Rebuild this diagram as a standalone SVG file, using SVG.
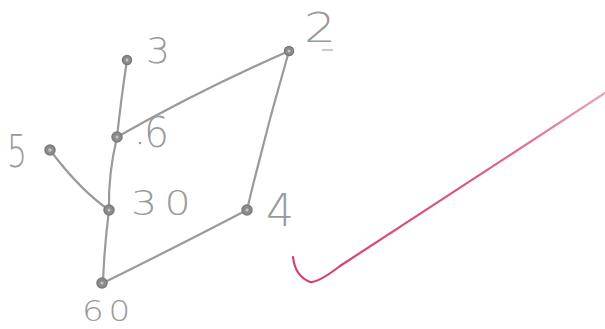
<svg xmlns="http://www.w3.org/2000/svg" width="605" height="329" viewBox="0 0 605 329">
<defs>
<linearGradient id="tick" x1="293" y1="282" x2="605" y2="93" gradientUnits="userSpaceOnUse">
<stop offset="0" stop-color="#d23f6a"/>
<stop offset="0.6" stop-color="#dc5a80"/>
<stop offset="1" stop-color="#eba0b6"/>
</linearGradient>
</defs>
<style>
.edge{fill:none;stroke:#9a9a9a;stroke-width:2.2;stroke-linecap:round}
.node{fill:#8c8c8c;stroke:#7a7a7a;stroke-width:1.5}
.hole{fill:#c4c4c4}
.lbl{font-family:"DejaVu Sans","Liberation Sans",sans-serif;font-weight:200;fill:#9a9a9a}
</style>
<rect width="605" height="329" fill="#ffffff"/>
<g id="connectors">
<path class="edge" d="M127,60 Q121,100 117,137"/>
<path class="edge" d="M289,51 Q200,90 117,137"/>
<path class="edge" d="M289,51 Q266,130 247,210"/>
<path class="edge" d="M117,137 Q108,175 109,210"/>
<path class="edge" d="M50,150 Q80,190 109,210"/>
<path class="edge" d="M109,210 Q104,250 103,283"/>
<path class="edge" d="M247,210 Q170,250 103,283"/>
</g>
<g id="node-3"><circle class="node" cx="127" cy="60" r="4.5"/><circle class="hole" cx="127" cy="60" r="1.5"/><text class="lbl" x="146" y="63" font-size="35" textLength="24" lengthAdjust="spacingAndGlyphs">3</text></g>
<g id="node-2"><circle class="node" cx="289" cy="51" r="4.5"/><circle class="hole" cx="289" cy="51" r="1.5"/><text class="lbl" x="304" y="42" font-size="40" textLength="32" lengthAdjust="spacingAndGlyphs">2</text><line x1="322" y1="50" x2="333" y2="50" stroke="#c8c8c8" stroke-width="2"/></g>
<g id="node-6"><circle class="node" cx="117" cy="137" r="5"/><circle class="hole" cx="117" cy="137" r="1.5"/><circle cx="140" cy="143" r="1.3" fill="#9a9a9a"/><text class="lbl" x="144" y="147" font-size="42" textLength="25" lengthAdjust="spacingAndGlyphs">6</text></g>
<g id="node-5"><circle class="node" cx="50" cy="150" r="5"/><circle class="hole" cx="50" cy="150" r="1.8"/><text class="lbl" x="7" y="167" font-size="44" textLength="20" lengthAdjust="spacingAndGlyphs">5</text></g>
<g id="node-30"><circle class="node" cx="109" cy="210" r="5"/><circle class="hole" cx="109" cy="210" r="1.5"/><text class="lbl" x="131" y="215" font-size="34" textLength="67" lengthAdjust="spacingAndGlyphs" letter-spacing="6">30</text></g>
<g id="node-4"><circle class="node" cx="247" cy="210" r="5"/><circle class="hole" cx="247" cy="210" r="1.5"/><text class="lbl" x="266" y="226" font-size="44" textLength="28" lengthAdjust="spacingAndGlyphs">4</text></g>
<g id="node-60"><circle class="node" cx="102" cy="283" r="5"/><circle class="hole" cx="102" cy="283" r="1.5"/><text class="lbl" x="82" y="321" font-size="29" textLength="53" lengthAdjust="spacingAndGlyphs" letter-spacing="4">60</text></g>
<path d="M293,257 Q295,276 310,282 Q318,283 340,266 L605,93" fill="none" stroke="url(#tick)" stroke-width="2.2" stroke-linecap="round"/>
</svg>
